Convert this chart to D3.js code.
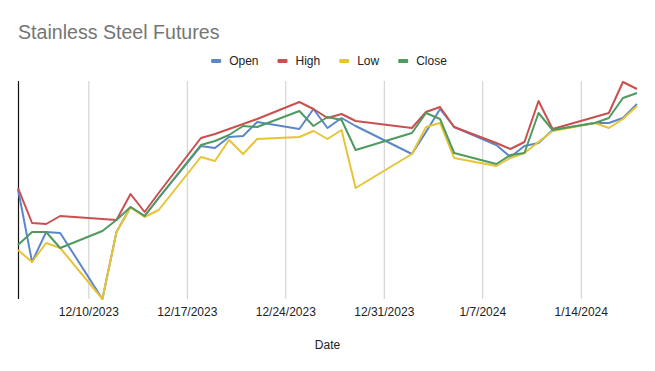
<!DOCTYPE html>
<html>
<head>
<meta charset="utf-8">
<script src="https://cdn.jsdelivr.net/npm/d3@7"></script>
<style>
  body { margin: 0; background: #fff; }
  text { font-family: "Liberation Sans", Arial, sans-serif; }
</style>
</head>
<body>
<div id="chart-area"></div>
<script>
// STEP 1: data
const dates = ["2023-12-05","2023-12-06","2023-12-07","2023-12-08","2023-12-11","2023-12-12","2023-12-13","2023-12-14","2023-12-15",
               "2023-12-18","2023-12-19","2023-12-20","2023-12-21","2023-12-22","2023-12-25","2023-12-26","2023-12-27","2023-12-28","2023-12-29",
               "2024-01-02","2024-01-03","2024-01-04","2024-01-05","2024-01-08","2024-01-09","2024-01-10","2024-01-11","2024-01-12",
               "2024-01-15","2024-01-16","2024-01-17","2024-01-18"]

const openVals  = [14050,13685,13835,13830,13500,13835,13960,13915,14005,14265,14255,14310,14315,14385,14350,14450,14355,14405,14365,
                   14225,14335,14450,14360,14270,14210,14265,14280,14345,14380,14380,14405,14475]
const highVals  = [14055,13880,13875,13915,13900,13895,14025,13935,14030,14305,14325,14350,14375,14400,14485,14450,14405,14425,14390,
                   14355,14435,14460,14360,14280,14250,14285,14490,14350,14410,14430,14585,14550]
const lowVals   = [13745,13685,13780,13755,13500,13835,13958,13910,13945,14210,14190,14295,14225,14300,14310,14340,14300,14345,14055,
                   14225,14360,14380,14205,14165,14205,14230,14285,14340,14380,14355,14400,14465]
const closeVals = [13770,13835,13835,13755,13840,13895,13960,13915,14005,14270,14290,14320,14365,14360,14440,14365,14410,14395,14245,
                   14330,14430,14400,14230,14175,14220,14230,14430,14345,14380,14405,14505,14530]

const seriesNames  = ["Open","High","Low","Close"]
const seriesValues = [openVals, highVals, lowVals, closeVals]
const seriesColors = ["#5b87c9","#c9504f","#e8c435","#4f9a5f"]

const tickDates = ["2023-12-10","2023-12-17","2023-12-24","2023-12-31","2024-01-07","2024-01-14"]

const WIDTH = 655, HEIGHT = 371
const PLOT = {left: 18, right: 637, top: 81, bottom: 299}

const parse = d3.timeParse("%Y-%m-%d")
const fmt = d3.timeFormat("%-m/%-d/%Y")

const svg = d3.select("#chart-area").append("svg")
            .attr("width", WIDTH)
            .attr("height", HEIGHT)

// ---------------------------//
//       AXIS AND SCALE       //
// ---------------------------//

const xScale = d3.scaleTime()
               .domain([parse(dates[0]), parse(dates[dates.length-1])])
               .range([PLOT.left, PLOT.right])

const yScale = d3.scaleLinear()
               .domain([13500, 14590])
               .range([PLOT.bottom, PLOT.top])

// vertical gridlines + tick labels
const xAxis = d3.axisBottom(xScale)
                .tickValues(tickDates.map(parse))
                .tickFormat(fmt)
                .tickSize(-(PLOT.bottom - PLOT.top))
                .tickPadding(8)

const gx = svg.append("g")
              .attr("transform", `translate(0,${PLOT.bottom})`)
              .call(xAxis)
gx.select(".domain").remove()
gx.selectAll(".tick line").attr("stroke", "#cccccc")
gx.selectAll(".tick text")
  .attr("fill", "#222")
  .style("font-size", "12px")

// left axis line
svg.append("line")
   .attr("x1", PLOT.left + 0.5).attr("x2", PLOT.left + 0.5)
   .attr("y1", PLOT.top).attr("y2", PLOT.bottom)
   .attr("stroke", "#111")
   .attr("stroke-width", 1.2)

// ---------------------------//
//           LINES            //
// ---------------------------//

const line = d3.line()
               .x((d, i) => xScale(parse(dates[i])))
               .y(d => yScale(d))

svg.selectAll(".series")
   .data(seriesValues)
   .enter()
   .append("path")
   .attr("class", "series")
   .attr("d", d => line(d))
   .attr("fill", "none")
   .attr("stroke", (d, i) => seriesColors[i])
   .attr("stroke-width", 2)
   .attr("stroke-linejoin", "round")

// ---------------------------//
//      TITLE AND LEGEND      //
// ---------------------------//

svg.append("text")
   .attr("x", 18)
   .attr("y", 39)
   .attr("fill", "#757575")
   .style("font-size", "19.6px")
   .text("Stainless Steel Futures")

svg.append("text")
   .attr("x", (PLOT.left + PLOT.right) / 2)
   .attr("y", 349)
   .attr("text-anchor", "middle")
   .attr("fill", "#222")
   .style("font-size", "12px")
   .text("Date")

const legend = svg.append("g")
let lx = 0
const items = legend.selectAll(".item")
              .data(seriesNames)
              .enter()
              .append("g")
items.append("rect")
     .attr("width", 10).attr("height", 4)
     .attr("y", -2).attr("rx", 1)
     .attr("fill", (d, i) => seriesColors[i])
items.append("text")
     .attr("x", 18)
     .attr("dy", "0.35em")
     .attr("fill", "#222")
     .style("font-size", "12px")
     .text(d => d)
items.each(function() {
    const w = this.querySelector("text").getComputedTextLength()
    d3.select(this).attr("transform", `translate(${lx},0)`)
    lx += 18 + w + 19
})
lx -= 19
legend.attr("transform", `translate(${329 - lx / 2},61)`)
</script>
</body>
</html>
